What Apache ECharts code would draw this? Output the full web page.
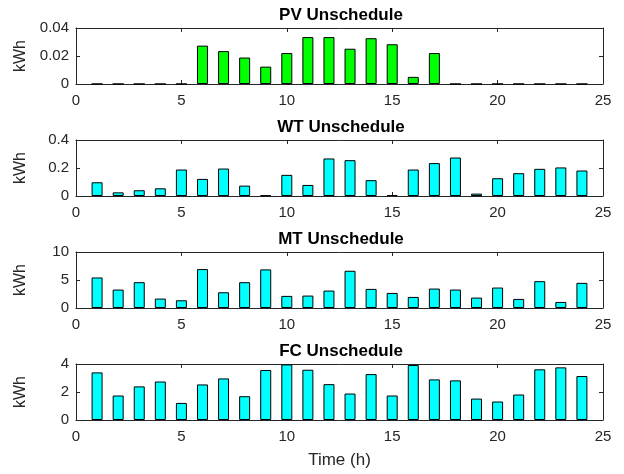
<!DOCTYPE html>
<html>
<head>
<meta charset="utf-8">
<script src="https://cdn.jsdelivr.net/npm/echarts@6/dist/echarts.min.js"></script>
<style>
  html, body { margin: 0; padding: 0; background: #fff; }
  #chart { width: 624px; height: 474px; }
</style>
</head>
<body>
<div id="chart"></div>
<script>
// hours 1..24
var hours = [1, 2, 3, 4, 5, 6, 7, 8, 9, 10, 11, 12, 13, 14, 15, 16, 17, 18, 19, 20, 21, 22, 23, 24];

var pvValues = [0, 0, 0, 0, 0, 0.0274, 0.0235, 0.0189, 0.0124, 0.0221, 0.0335, 0.0335,
  0.0252, 0.0327, 0.0284, 0.0051, 0.0221, 0, 0, 0, 0, 0, 0, 0];
var wtValues = [0.098, 0.026, 0.041, 0.055, 0.189, 0.122, 0.196, 0.074, 0.005, 0.151, 0.079, 0.268,
  0.256, 0.113, 0.007, 0.189, 0.235, 0.275, 0.017, 0.127, 0.163, 0.194, 0.204, 0.182];
var mtValues = [5.45, 3.29, 4.61, 1.68, 1.38, 6.95, 2.81, 4.61, 6.89, 2.16, 2.22, 3.11,
  6.65, 3.41, 2.69, 1.98, 3.47, 3.29, 1.86, 3.65, 1.62, 4.79, 1.08, 4.49];
var fcValues = [3.40, 1.75, 2.40, 2.75, 1.22, 2.54, 2.97, 1.70, 3.57, 3.97, 3.59, 2.56,
  1.89, 3.28, 1.75, 3.93, 2.90, 2.83, 1.53, 1.32, 1.82, 3.62, 3.76, 3.14];

var titles = ['PV Unschedule', 'WT Unschedule', 'MT Unschedule', 'FC Unschedule'];
var yMax = [0.04, 0.4, 10, 4];
var yStep = [0.02, 0.2, 5, 2];
var barColors = ['#00ff00', '#00ffff', '#00ffff', '#00ffff'];
var allValues = [pvValues, wtValues, mtValues, fcValues];

var axisColor = '#262626';
var font = 'Liberation Sans';

var myChart = echarts.init(document.getElementById('chart'));

var option = {
  backgroundColor: '#fff',
  animation: false,
  textStyle: { fontFamily: font },
  title: [],
  grid: [],
  xAxis: [],
  yAxis: [],
  series: []
};

for (var i = 0; i < 4; i++) {
  var gridTop = 28 + 112 * i;
  option.grid.push({ left: 76, top: gridTop, width: 527, height: 56 });
  option.title.push({
    text: titles[i],
    left: 336, top: gridTop - 26, textAlign: 'center',
    textStyle: { fontFamily: font, fontSize: 17, fontWeight: 'bold', color: '#000' }
  });

  // bottom x axis
  option.xAxis.push({
    type: 'value', gridIndex: i, min: 0, max: 25, interval: 5,
    name: i === 3 ? 'Time (h)' : '', nameLocation: 'middle', nameGap: 32,
    nameTextStyle: { fontFamily: font, fontSize: 17, color: axisColor },
    axisLine: { show: true, onZero: false, lineStyle: { color: axisColor } },
    axisTick: { show: true, inside: true, length: 4, lineStyle: { color: axisColor } },
    axisLabel: { fontFamily: font, fontSize: 15, color: axisColor, margin: 9 },
    splitLine: { show: false }
  });
  // top x axis (box)
  option.xAxis.push({
    type: 'value', gridIndex: i, min: 0, max: 25, interval: 5, position: 'top',
    axisLine: { show: true, onZero: false, lineStyle: { color: axisColor } },
    axisTick: { show: true, inside: true, length: 4, lineStyle: { color: axisColor } },
    axisLabel: { show: false },
    splitLine: { show: false }
  });

  option.yAxis.push({
    type: 'value', gridIndex: i, min: 0, max: yMax[i], interval: yStep[i],
    name: 'kWh', nameLocation: 'middle', nameGap: 47, nameRotate: 90,
    nameTextStyle: { fontFamily: font, fontSize: 16, color: axisColor },
    axisLine: { show: true, onZero: false, lineStyle: { color: axisColor } },
    axisTick: { show: true, inside: true, length: 4, lineStyle: { color: axisColor } },
    axisLabel: { fontFamily: font, fontSize: 15, color: axisColor, margin: 7 },
    splitLine: { show: false }
  });
  option.yAxis.push({
    type: 'value', gridIndex: i, min: 0, max: yMax[i], interval: yStep[i], position: 'right',
    axisLine: { show: true, onZero: false, lineStyle: { color: axisColor } },
    axisTick: { show: true, inside: true, length: 4, lineStyle: { color: axisColor } },
    axisLabel: { show: false },
    splitLine: { show: false }
  });

  var data = hours.map(function (h, k) { return [h, allValues[i][k]]; });
  option.series.push({
    type: 'bar',
    xAxisIndex: 2 * i, yAxisIndex: 2 * i,
    data: data,
    barWidth: 11,
    itemStyle: { color: barColors[i], borderColor: '#000', borderWidth: 1 }
  });
}

myChart.setOption(option);
</script>
</body>
</html>
